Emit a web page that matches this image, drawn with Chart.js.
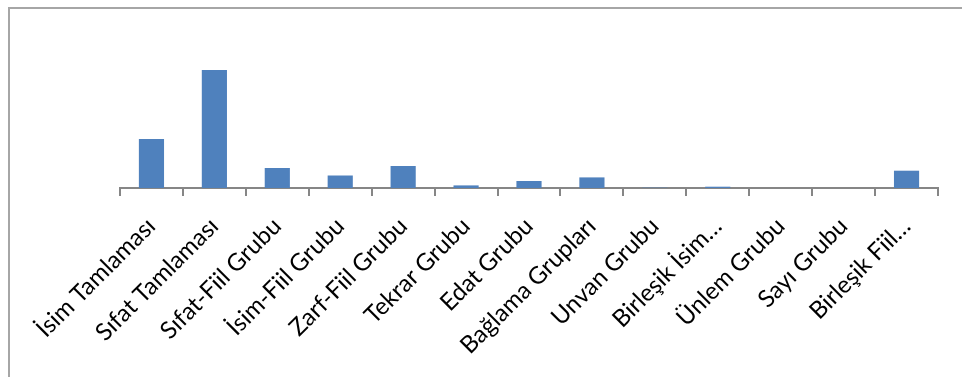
<!DOCTYPE html>
<html>
<head>
<meta charset="utf-8">
<script src="https://cdn.jsdelivr.net/npm/chart.js@4/dist/chart.umd.min.js"></script>
<style>
  html, body { margin: 0; padding: 0; background: #fff; }
  .frame { position: absolute; left: 8px; top: 7px; width: 954px; height: 370px;
           border-left: 2px solid #a6a6a6; border-top: 2px solid #a6a6a6; }
  .wrap { position: absolute; left: 0; top: 0; width: 962px; height: 377px; }
</style>
</head>
<body>
<div class="frame"></div>
<div class="wrap"><canvas id="chart" width="962" height="377"></canvas></div>
<script>
const categories = [
  "İsim Tamlaması", "Sıfat Tamlaması", "Sıfat-Fiil Grubu", "İsim-Fiil Grubu",
  "Zarf-Fiil Grubu", "Tekrar Grubu", "Edat Grubu", "Bağlama Grupları",
  "Unvan Grubu", "Birleşik İsim…", "Ünlem Grubu", "Sayı Grubu", "Birleşik Fiil…"
]
const counts = [49, 118, 20, 12.5, 22, 2.6, 7, 10.6, 0.3, 1.3, 0, 0, 17.3]
const yMax = 140

const axisColor = "#868686"

new Chart(document.getElementById("chart"), {
  type: "bar",
  data: {
    labels: categories,
    datasets: [{
      data: counts,
      backgroundColor: "#4f81bd",
      borderWidth: 0,
      barPercentage: 0.4,
      categoryPercentage: 1
    }]
  },
  options: {
    responsive: false,
    animation: false,
    layout: { padding: { left: 120, right: 24, top: 48, bottom: 0 } },
    plugins: { legend: { display: false }, tooltip: { enabled: false } },
    scales: {
      x: {
        offset: true,
        grid: {
          display: true,
          offset: true,
          drawOnChartArea: false,
          drawTicks: true,
          tickLength: 8,
          color: axisColor,
          tickColor: axisColor,
          lineWidth: 2
        },
        border: { display: true, color: axisColor, width: 2 },
        ticks: {
          color: "#000",
          font: { family: "Lato, sans-serif", size: 24 },
          maxRotation: 45,
          minRotation: 45,
          autoSkip: false,
          padding: 16
        },
        afterFit(scale) {
          scale.height = 189
          scale.paddingLeft = 0
          scale.paddingRight = 0
        }
      },
      y: {
        display: false,
        min: 0,
        max: yMax
      }
    }
  }
})
</script>
</body>
</html>
